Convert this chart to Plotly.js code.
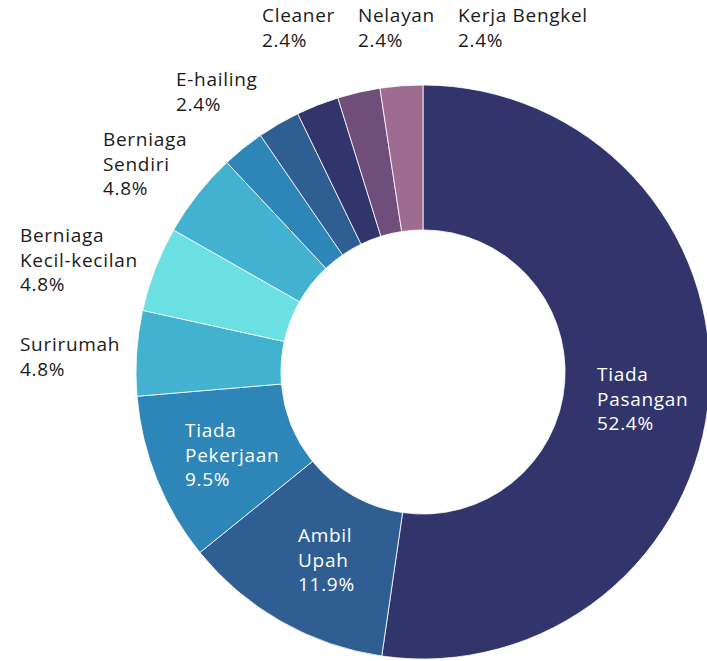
<!DOCTYPE html>
<html>
<head>
<meta charset="utf-8">
<script src="https://cdn.plot.ly/plotly-3.0.1.min.js"></script>
<style>
  html, body { margin: 0; padding: 0; background: #ffffff; overflow: hidden; width: 707px; height: 661px; }
  #chart { width: 720px; height: 661px; }
  #chart .annotation-text { letter-spacing: 0.7px; }
</style>
</head>
<body>
<div id="chart"></div>
<script>
// ---- data ----
const categories = ['Tiada Pasangan', 'Ambil Upah', 'Tiada Pekerjaan', 'Surirumah',
  'Berniaga Kecil-kecilan', 'Berniaga Sendiri', 'Lain-lain', 'E-hailing', 'Cleaner', 'Nelayan', 'Kerja Bengkel'];
const shares = [52.4, 11.9, 9.5, 4.8, 4.8, 4.8, 2.4, 2.4, 2.4, 2.4, 2.4];
const labelLines = ['Tiada<br>Pasangan', 'Ambil<br>Upah', 'Tiada<br>Pekerjaan', 'Surirumah',
  'Berniaga<br>Kecil-kecilan', 'Berniaga<br>Sendiri', null, 'E-hailing', 'Cleaner', 'Nelayan', 'Kerja Bengkel'];

// ---- styling ----
const colors = ['#31356c', '#2f5f92', '#2e86b8', '#42b2d0', '#6be0e2', '#42b2d0',
  '#2e86b8', '#2f5f92', '#31356c', '#6f4e7c', '#9e6b91'];
const insideLabel = [true, true, true, false, false, false, false, false, false, false, false];
// label anchor: [left px, first baseline px]
const labelPos = [[597, 381], [298, 542], [185, 437], [20, 351], [20, 242], [103, 146], null,
  [176, 86], [262, 22], [358, 22], [458, 22]];

const W = 720, H = 661;
const FS = 19;
const FONT = '"Open Sans", sans-serif';

const annotations = [];
categories.forEach((c, i) => {
  if (!labelLines[i] || !labelPos[i]) return;
  const [px, py] = labelPos[i];
  const topPx = py - FS * 1.0 - 2;
  annotations.push({
    xref: 'paper', yref: 'paper',
    x: (px - 1) / W, y: 1 - topPx / H,
    xanchor: 'left', yanchor: 'top', align: 'left',
    showarrow: false, borderpad: 0,
    text: labelLines[i] + '<br>' + shares[i].toFixed(1) + '%',
    font: { family: FONT, size: FS, color: insideLabel[i] ? '#ffffff' : '#1b1b1b' }
  });
});

const trace = {
  type: 'pie',
  labels: categories,
  values: shares,
  sort: false,
  direction: 'clockwise',
  rotation: 0,
  hole: 0.495,
  textinfo: 'none',
  hoverinfo: 'none',
  marker: { colors: colors, line: { color: '#ffffff', width: 0.8 } },
  domain: { x: [136 / W, 710 / W], y: [(H - 659) / H, (H - 85) / H] }
};

Plotly.newPlot('chart', [trace], {
  width: W, height: H,
  margin: { l: 0, r: 0, t: 0, b: 0 },
  showlegend: false,
  paper_bgcolor: '#ffffff',
  font: { family: FONT },
  annotations: annotations
}, { staticPlot: true, displayModeBar: false });
</script>
</body>
</html>
